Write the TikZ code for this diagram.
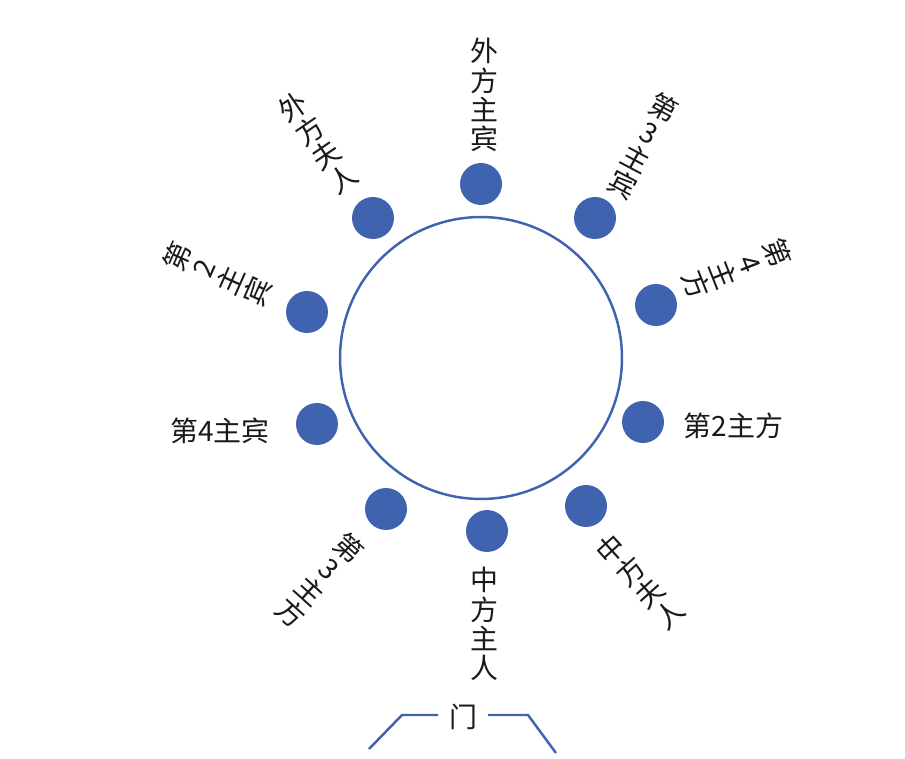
\documentclass[tikz,border=0pt]{standalone}
\usepackage{fontspec}
\newfontfamily\cjk{Noto Sans CJK SC}
\usepackage{tikz}
\usetikzlibrary{positioning}
\definecolor{seatblue}{RGB}{63,99,174}

\begin{document}
\begin{tikzpicture}[
		x=0.02cm, y=-0.02cm,
		roundtable/.style = {draw=seatblue, circle, line width=1.4pt, minimum size=5.64cm, inner sep=0pt},
		seat/.style  = {circle, fill=seatblue, minimum size=0.84cm, inner sep=0pt},
		guest/.style = {inner sep=0pt, align=center, text=black!90, font=\cjk\fontsize{15.9}{16.6}\selectfont},
		doorline/.style = {draw=seatblue, line width=1.4pt}]
		
		\useasboundingbox (0,0) rectangle (905,759);
		
		% the round table
		\node[roundtable] (t) at (481,358) {};
		
		% seats round the table
		\foreach \nm/\px/\py in {s1/481/184, s2/373/218, s3/595/218, s4/307/312, s5/656/305,
			s6/317/424, s7/643/422, s8/386/509, s9/586/506, s10/487/531}
		\node[seat] (\nm) at (\px,\py) {};
		
		% guests, upper half
		\node[guest] (n1) at (484,95) {外\\方\\主\\宾};
		\node[guest, rotate=34.5] (n2) at (318,143) {外\\方\\夫\\人};
		\node[guest, rotate=-28] (n3) at (643,146) {第\\3\\主\\宾};
		\node[guest, rotate=66] (n4) at (217,274) {第\\2\\主\\宾};
		\node[guest, rotate=-68.5] (n5) at (737,269) {第\\4\\主\\方};
		
		% guests, left and right
		\node[guest, left=14.7pt of s6, yshift=-4pt] (n6) {第4主宾};
		\node[guest, right=10.8pt of s7, yshift=-2.3pt] (n7) {第2主方};
		
		% hosts, lower half
		\node[guest, rotate=-42] (n8) at (320,580) {第\\3\\主\\方};
		\node[guest, rotate=42] (n9) at (640,582) {中\\方\\夫\\人};
		\node[guest] (n10) at (484,624) {中\\方\\主\\人};
		
		% the door
		\node[guest] (d) at (463,717) {门};
		\coordinate (dl1) at (369,749);
		\coordinate (dl2) at (402,715);
		\coordinate (dl3) at (438,715);
		\coordinate (dr1) at (488,715);
		\coordinate (dr2) at (528,715);
		\coordinate (dr3) at (556,753);
		\draw[doorline] (dl1) -- (dl2) -- (dl3);
		\draw[doorline] (dr1) -- (dr2) -- (dr3);
		
	\end{tikzpicture}
\end{document}
